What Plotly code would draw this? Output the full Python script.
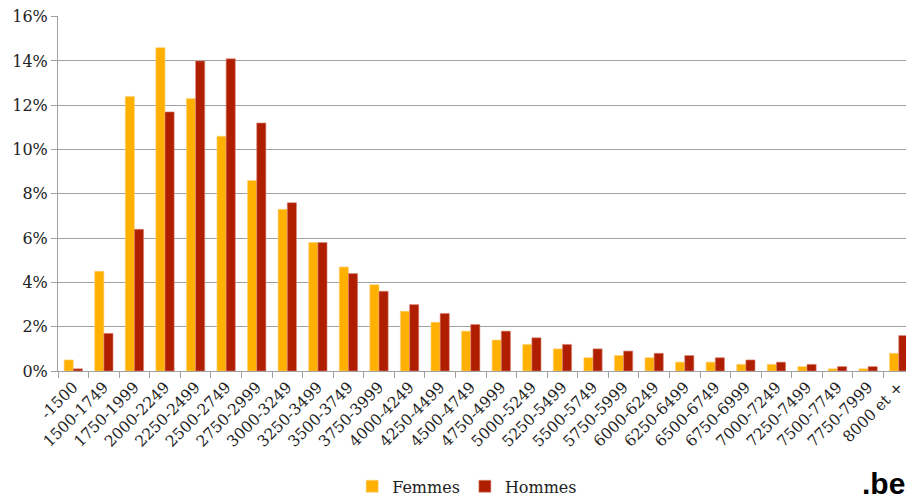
import plotly.graph_objects as go

categories = ["-1500", "1500-1749", "1750-1999", "2000-2249", "2250-2499", "2500-2749",
              "2750-2999", "3000-3249", "3250-3499", "3500-3749", "3750-3999", "4000-4249",
              "4250-4499", "4500-4749", "4750-4999", "5000-5249", "5250-5499", "5500-5749",
              "5750-5999", "6000-6249", "6250-6499", "6500-6749", "6750-6999", "7000-7249",
              "7250-7499", "7500-7749", "7750-7999", "8000 et +"]
femmes = [0.5, 4.5, 12.4, 14.6, 12.3, 10.6, 8.6, 7.3, 5.8, 4.7, 3.9, 2.7,
          2.2, 1.8, 1.4, 1.2, 1.0, 0.6, 0.7, 0.6, 0.4, 0.4, 0.3, 0.3,
          0.2, 0.1, 0.1, 0.8]
hommes = [0.1, 1.7, 6.4, 11.7, 14.0, 14.1, 11.2, 7.6, 5.8, 4.4, 3.6, 3.0,
          2.6, 2.1, 1.8, 1.5, 1.2, 1.0, 0.9, 0.8, 0.7, 0.6, 0.5, 0.4,
          0.3, 0.2, 0.2, 1.6]
y_ticks = [0, 2, 4, 6, 8, 10, 12, 14, 16]
y_ticktext = [f"{v}%" for v in y_ticks]

font_family = "Georgia, 'DejaVu Serif', serif"

fig = go.Figure()
fig.add_trace(go.Bar(name="Femmes", x=categories, y=femmes,
                     marker=dict(color="#FFB000", line=dict(width=0.6, color="#FFD27A"))))
fig.add_trace(go.Bar(name="Hommes", x=categories, y=hommes,
                     marker=dict(color="#B01E00", line=dict(width=0.6, color="#D98A7A"))))

# the page body adds an 8px margin, so the figure is sized 8px smaller
fig.update_layout(
    width=906, height=494,
    margin=dict(l=50, r=0, t=8, b=131, autoexpand=False),
    paper_bgcolor="white", plot_bgcolor="white",
    barmode="group", bargap=0.4, bargroupgap=0,
    font=dict(family=font_family, color="#222222", size=14),
    showlegend=True,
    legend=dict(orientation="h", x=0.478, xanchor="center", y=-0.325, yanchor="middle",
                font=dict(size=16, family=font_family), itemwidth=30,
                tracegroupgap=0),
    xaxis=dict(
        type="category", tickangle=-45, tickson="boundaries",
        ticks="outside", ticklen=6, tickcolor="#a0a0a0",
        showline=True, linecolor="#a0a0a0", linewidth=1,
        showgrid=False, tickfont=dict(size=15.5, family=font_family),
    ),
    yaxis=dict(
        range=[0, 16.03], tickvals=y_ticks, ticktext=y_ticktext,
        showgrid=True, gridcolor="#a0a0a0", gridwidth=1,
        showline=True, linecolor="#a0a0a0", linewidth=1,
        ticks="outside", ticklen=6, tickcolor="#a0a0a0",
        zeroline=False, tickfont=dict(size=16, family=font_family),
        ticklabeloverflow="allow",
    ),
)

fig.add_annotation(text="<b>.be</b>", xref="paper", yref="paper",
                   x=0.992, y=-0.318, xanchor="right", yanchor="middle", showarrow=False,
                   font=dict(family="'Liberation Sans', Arial, sans-serif", size=30, color="#000000"))

fig.write_html("out.html")
